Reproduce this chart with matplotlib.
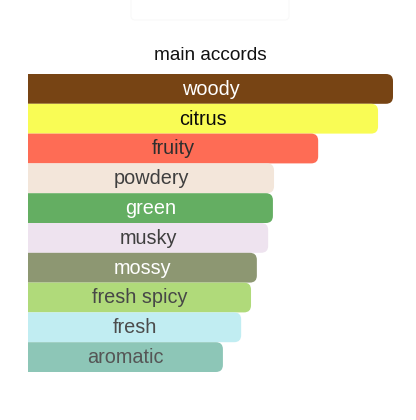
import matplotlib
matplotlib.use("Agg")
import matplotlib.pyplot as plt
from matplotlib.patches import FancyBboxPatch

plt.rcParams['font.family'] = ['Liberation Sans', 'DejaVu Sans']

# accords, strength relative to the top one
accords = ['woody', 'citrus', 'fruity', 'powdery', 'green', 'musky',
           'mossy', 'fresh spicy', 'fresh', 'aromatic']
strength = [100, 95.9, 79.5, 67.4, 67.1, 65.8, 62.7, 61.1, 58.4, 53.4]
bar_colors = ['#774414', '#F9FC55', '#FE6C55', '#F3E6DA', '#64AE62', '#EEE3EF',
              '#8D9772', '#B0DA7A', '#C1EDF2', '#8DC6B7']
text_colors = ['white', '#0a0a0a', '#2e2e2e', '#3f3f3f', 'white',
               '#3f3f3f', 'white', '#474747', '#4c4c4c', '#555555']


def main():
    W, H = 416, 420
    fig = plt.figure(figsize=(W / 100, H / 100), dpi=100)
    fig.patch.set_facecolor('white')

    # barely visible box at the very top
    fig.patches.append(FancyBboxPatch((131 / W, 1 - 20 / H), 158 / W, 30 / H,
                                      boxstyle='round,pad=0,rounding_size=0.01',
                                      transform=fig.transFigure, facecolor='white',
                                      edgecolor='#f9f9f9', lw=0.8))

    ax = fig.add_axes([28 / W, 48 / H, 365 / W, 298 / H])
    ax.set_xlim(0, 100)
    ax.set_ylim(len(accords) - 0.5, -0.5)
    ax.axis('off')

    # corner radius in px -> data units, with y aspect fix
    px_x = 365 / 100
    px_y = 298 / len(accords)
    r = 7 / px_x
    aspect = px_x / px_y

    for i, (name, v) in enumerate(zip(accords, strength)):
        box = FancyBboxPatch((-10, i - 0.5), v + 10, 1.0,
                             boxstyle=f'round,pad=0,rounding_size={r}',
                             mutation_aspect=aspect,
                             facecolor=bar_colors[i], edgecolor='none')
        ax.add_patch(box)
        ax.text(v / 2, i + 0.195, name, ha='center', va='baseline',
                fontsize=14.3, color=text_colors[i])

    ax.text(0.5, 1 + 14 / 298, 'main accords', transform=ax.transAxes,
            ha='center', va='baseline', fontsize=13.7, color='#111111')

    fig.savefig('out.png', dpi=100)


main()
